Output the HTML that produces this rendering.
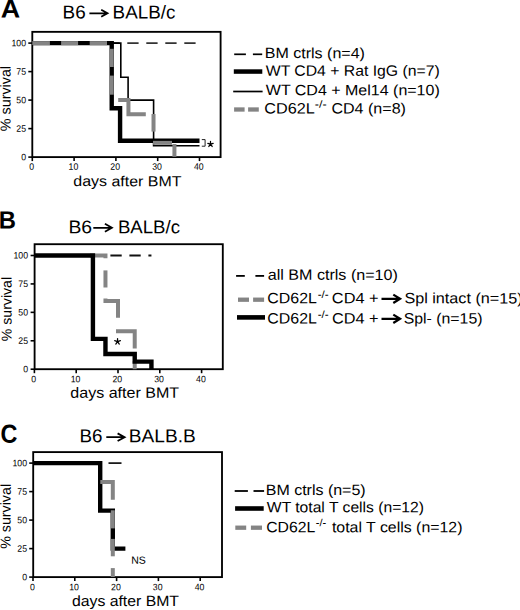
<!DOCTYPE html>
<html><head><meta charset="utf-8"><style>
html,body{margin:0;padding:0;background:#fff;width:520px;height:610px;overflow:hidden}
svg{display:block}
text{font-family:"Liberation Sans", sans-serif;fill:#000}
</style></head><body>
<svg width="520" height="610" viewBox="0 0 520 610" overflow="visible">
<rect width="520" height="610" fill="#fff"/>
<rect x="32.30" y="31.85" width="188.30" height="125.25" fill="none" stroke="#000" stroke-width="1.85"/>
<line x1="28.30" y1="157.10" x2="32.30" y2="157.10" stroke="#000" stroke-width="1.6" />
<text transform="translate(26.00 160.20) rotate(0.05)" font-size="9.3" text-anchor="end" textLength="4.86" lengthAdjust="spacingAndGlyphs">0</text>
<line x1="28.30" y1="128.60" x2="32.30" y2="128.60" stroke="#000" stroke-width="1.6" />
<text transform="translate(26.00 131.70) rotate(0.05)" font-size="9.3" text-anchor="end" textLength="9.72" lengthAdjust="spacingAndGlyphs">25</text>
<line x1="28.30" y1="100.10" x2="32.30" y2="100.10" stroke="#000" stroke-width="1.6" />
<text transform="translate(26.00 103.20) rotate(0.05)" font-size="9.3" text-anchor="end" textLength="9.72" lengthAdjust="spacingAndGlyphs">50</text>
<line x1="28.30" y1="71.60" x2="32.30" y2="71.60" stroke="#000" stroke-width="1.6" />
<text transform="translate(26.00 74.70) rotate(0.05)" font-size="9.3" text-anchor="end" textLength="9.72" lengthAdjust="spacingAndGlyphs">75</text>
<line x1="28.30" y1="43.10" x2="32.30" y2="43.10" stroke="#000" stroke-width="1.6" />
<text transform="translate(26.00 46.20) rotate(0.05)" font-size="9.3" text-anchor="end" textLength="14.58" lengthAdjust="spacingAndGlyphs">100</text>
<line x1="32.30" y1="157.10" x2="32.30" y2="161.10" stroke="#000" stroke-width="1.6" />
<text transform="translate(31.60 169.70) rotate(0.05)" font-size="9.3" text-anchor="middle" textLength="4.86" lengthAdjust="spacingAndGlyphs">0</text>
<line x1="74.10" y1="157.10" x2="74.10" y2="161.10" stroke="#000" stroke-width="1.6" />
<text transform="translate(73.40 169.70) rotate(0.05)" font-size="9.3" text-anchor="middle" textLength="9.72" lengthAdjust="spacingAndGlyphs">10</text>
<line x1="115.90" y1="157.10" x2="115.90" y2="161.10" stroke="#000" stroke-width="1.6" />
<text transform="translate(115.20 169.70) rotate(0.05)" font-size="9.3" text-anchor="middle" textLength="9.72" lengthAdjust="spacingAndGlyphs">20</text>
<line x1="157.70" y1="157.10" x2="157.70" y2="161.10" stroke="#000" stroke-width="1.6" />
<text transform="translate(157.00 169.70) rotate(0.05)" font-size="9.3" text-anchor="middle" textLength="9.72" lengthAdjust="spacingAndGlyphs">30</text>
<line x1="199.50" y1="157.10" x2="199.50" y2="161.10" stroke="#000" stroke-width="1.6" />
<text transform="translate(198.80 169.70) rotate(0.05)" font-size="9.3" text-anchor="middle" textLength="9.72" lengthAdjust="spacingAndGlyphs">40</text>
<line x1="32.30" y1="43.10" x2="199.50" y2="43.10" stroke="#333" stroke-width="1.6" stroke-dasharray="11.3 7.7"/>
<polyline points="32.30,43.10 111.72,43.10 111.72,108.24 120.08,108.24 120.08,140.81 199.50,140.81" fill="none" stroke="#000" stroke-width="4.4" />
<polyline points="32.30,43.10 120.80,43.10 120.80,77.30 128.10,77.30 128.10,100.10 153.60,100.10 153.60,145.70 199.50,145.70" fill="none" stroke="#000" stroke-width="1.6" />
<line x1="32.30" y1="43.10" x2="49.90" y2="43.10" stroke="#848484" stroke-width="4.0" />
<line x1="61.10" y1="43.10" x2="78.10" y2="43.10" stroke="#848484" stroke-width="4.0" />
<line x1="89.70" y1="43.10" x2="107.00" y2="43.10" stroke="#848484" stroke-width="4.0" />
<line x1="111.72" y1="48.80" x2="111.72" y2="67.00" stroke="#848484" stroke-width="4.0" />
<line x1="111.72" y1="75.60" x2="111.72" y2="94.70" stroke="#848484" stroke-width="4.0" />
<polyline points="118.20,100.10 128.44,100.10 128.44,114.35 145.80,114.35" fill="none" stroke="#848484" stroke-width="4.0" />
<line x1="153.52" y1="114.00" x2="153.52" y2="131.60" stroke="#848484" stroke-width="4.0" />
<line x1="153.02" y1="142.85" x2="172.00" y2="142.85" stroke="#848484" stroke-width="4.0" />
<line x1="174.42" y1="144.00" x2="174.42" y2="156.80" stroke="#848484" stroke-width="4.0" />
<path d="M201.8 139.6H205.1V146.2H201.8" fill="none" stroke="#222" stroke-width="1.0"/>
<path d="M210.50 144.20L210.50 141.40M210.50 144.20L213.16 143.33M210.50 144.20L212.15 146.47M210.50 144.20L208.85 146.47M210.50 144.20L207.84 143.33" stroke="#000" stroke-width="1.25" stroke-linecap="round" fill="none"/><circle cx="210.50" cy="144.20" r="0.85" fill="#000"/>
<path d="M89.40 13.30H107.00M101.20 9.80L107.50 13.30L101.20 16.80" fill="none" stroke="#000" stroke-width="1.8" stroke-linejoin="miter"/>
<line x1="234.20" y1="54.30" x2="245.90" y2="54.30" stroke="#000" stroke-width="1.7" />
<line x1="252.90" y1="54.30" x2="262.20" y2="54.30" stroke="#000" stroke-width="1.7" />
<line x1="233.80" y1="71.55" x2="262.30" y2="71.55" stroke="#000" stroke-width="4.5" />
<line x1="233.20" y1="91.50" x2="262.60" y2="91.50" stroke="#000" stroke-width="1.7" />
<line x1="234.10" y1="109.50" x2="244.60" y2="109.50" stroke="#848484" stroke-width="4.3" />
<line x1="248.10" y1="109.50" x2="258.80" y2="109.50" stroke="#848484" stroke-width="4.3" />
<rect x="34.60" y="244.20" width="188.20" height="125.00" fill="none" stroke="#000" stroke-width="1.85"/>
<line x1="30.60" y1="369.20" x2="34.60" y2="369.20" stroke="#000" stroke-width="1.6" />
<text transform="translate(28.00 372.30) rotate(0.05)" font-size="9.3" text-anchor="end" textLength="4.86" lengthAdjust="spacingAndGlyphs">0</text>
<line x1="30.60" y1="340.77" x2="34.60" y2="340.77" stroke="#000" stroke-width="1.6" />
<text transform="translate(28.00 343.88) rotate(0.05)" font-size="9.3" text-anchor="end" textLength="9.72" lengthAdjust="spacingAndGlyphs">25</text>
<line x1="30.60" y1="312.35" x2="34.60" y2="312.35" stroke="#000" stroke-width="1.6" />
<text transform="translate(28.00 315.45) rotate(0.05)" font-size="9.3" text-anchor="end" textLength="9.72" lengthAdjust="spacingAndGlyphs">50</text>
<line x1="30.60" y1="283.92" x2="34.60" y2="283.92" stroke="#000" stroke-width="1.6" />
<text transform="translate(28.00 287.02) rotate(0.05)" font-size="9.3" text-anchor="end" textLength="9.72" lengthAdjust="spacingAndGlyphs">75</text>
<line x1="30.60" y1="255.50" x2="34.60" y2="255.50" stroke="#000" stroke-width="1.6" />
<text transform="translate(28.00 258.60) rotate(0.05)" font-size="9.3" text-anchor="end" textLength="14.58" lengthAdjust="spacingAndGlyphs">100</text>
<line x1="34.40" y1="369.20" x2="34.40" y2="373.20" stroke="#000" stroke-width="1.6" />
<text transform="translate(33.70 382.30) rotate(0.05)" font-size="9.3" text-anchor="middle" textLength="4.86" lengthAdjust="spacingAndGlyphs">0</text>
<line x1="76.20" y1="369.20" x2="76.20" y2="373.20" stroke="#000" stroke-width="1.6" />
<text transform="translate(75.50 382.30) rotate(0.05)" font-size="9.3" text-anchor="middle" textLength="9.72" lengthAdjust="spacingAndGlyphs">10</text>
<line x1="118.00" y1="369.20" x2="118.00" y2="373.20" stroke="#000" stroke-width="1.6" />
<text transform="translate(117.30 382.30) rotate(0.05)" font-size="9.3" text-anchor="middle" textLength="9.72" lengthAdjust="spacingAndGlyphs">20</text>
<line x1="159.80" y1="369.20" x2="159.80" y2="373.20" stroke="#000" stroke-width="1.6" />
<text transform="translate(159.10 382.30) rotate(0.05)" font-size="9.3" text-anchor="middle" textLength="9.72" lengthAdjust="spacingAndGlyphs">30</text>
<line x1="201.60" y1="369.20" x2="201.60" y2="373.20" stroke="#000" stroke-width="1.6" />
<text transform="translate(200.90 382.30) rotate(0.05)" font-size="9.3" text-anchor="middle" textLength="9.72" lengthAdjust="spacingAndGlyphs">40</text>
<line x1="34.40" y1="255.50" x2="151.44" y2="255.50" stroke="#111" stroke-width="1.9" stroke-dasharray="11.3 7.7"/>
<polyline points="90.00,255.50 105.46,255.50 105.46,258.30" fill="none" stroke="#848484" stroke-width="4.0" />
<line x1="105.46" y1="270.40" x2="105.46" y2="287.50" stroke="#848484" stroke-width="4.0" />
<polyline points="105.46,298.60 105.46,300.98 118.00,300.98 118.00,317.80" fill="none" stroke="#848484" stroke-width="4.0" />
<polyline points="118.00,329.30 118.00,331.30 134.72,331.30 134.72,348.60" fill="none" stroke="#848484" stroke-width="4.0" />
<line x1="134.72" y1="361.00" x2="134.72" y2="369.20" stroke="#848484" stroke-width="4.0" />
<polyline points="34.40,255.50 92.92,255.50 92.92,338.88 105.46,338.88 105.46,354.04 134.72,354.04 134.72,361.62 151.44,361.62 151.44,369.20" fill="none" stroke="#000" stroke-width="4.4" />
<path d="M117.55 341.60L117.55 338.60M117.55 341.60L120.40 340.67M117.55 341.60L119.31 344.03M117.55 341.60L115.79 344.03M117.55 341.60L114.70 340.67" stroke="#000" stroke-width="1.25" stroke-linecap="round" fill="none"/><circle cx="117.55" cy="341.60" r="0.85" fill="#000"/>
<path d="M93.30 227.80H111.40M104.90 223.80L111.90 227.80L104.90 231.80" fill="none" stroke="#000" stroke-width="1.8" stroke-linejoin="miter"/>
<line x1="236.10" y1="275.90" x2="244.80" y2="275.90" stroke="#000" stroke-width="1.8" />
<line x1="255.40" y1="275.90" x2="264.10" y2="275.90" stroke="#000" stroke-width="1.8" />
<line x1="238.00" y1="299.70" x2="249.00" y2="299.70" stroke="#848484" stroke-width="4.3" />
<line x1="253.10" y1="299.70" x2="264.10" y2="299.70" stroke="#848484" stroke-width="4.3" />
<line x1="237.00" y1="317.40" x2="265.00" y2="317.40" stroke="#000" stroke-width="4.6" />
<path d="M381.50 298.80H399.60M393.30 294.60L400.10 298.80L393.30 303.00" fill="none" stroke="#000" stroke-width="2.2" stroke-linejoin="miter"/>
<path d="M381.50 318.80H399.60M393.30 314.60L400.10 318.80L393.30 323.00" fill="none" stroke="#000" stroke-width="2.2" stroke-linejoin="miter"/>
<rect x="33.20" y="452.10" width="188.80" height="125.00" fill="none" stroke="#000" stroke-width="1.85"/>
<line x1="29.20" y1="577.10" x2="33.20" y2="577.10" stroke="#000" stroke-width="1.6" />
<text transform="translate(27.00 580.20) rotate(0.05)" font-size="9.3" text-anchor="end" textLength="4.86" lengthAdjust="spacingAndGlyphs">0</text>
<line x1="29.20" y1="548.60" x2="33.20" y2="548.60" stroke="#000" stroke-width="1.6" />
<text transform="translate(27.00 551.70) rotate(0.05)" font-size="9.3" text-anchor="end" textLength="9.72" lengthAdjust="spacingAndGlyphs">25</text>
<line x1="29.20" y1="520.10" x2="33.20" y2="520.10" stroke="#000" stroke-width="1.6" />
<text transform="translate(27.00 523.20) rotate(0.05)" font-size="9.3" text-anchor="end" textLength="9.72" lengthAdjust="spacingAndGlyphs">50</text>
<line x1="29.20" y1="491.60" x2="33.20" y2="491.60" stroke="#000" stroke-width="1.6" />
<text transform="translate(27.00 494.70) rotate(0.05)" font-size="9.3" text-anchor="end" textLength="9.72" lengthAdjust="spacingAndGlyphs">75</text>
<line x1="29.20" y1="463.10" x2="33.20" y2="463.10" stroke="#000" stroke-width="1.6" />
<text transform="translate(27.00 466.20) rotate(0.05)" font-size="9.3" text-anchor="end" textLength="14.58" lengthAdjust="spacingAndGlyphs">100</text>
<line x1="33.00" y1="577.10" x2="33.00" y2="581.10" stroke="#000" stroke-width="1.6" />
<text transform="translate(32.30 590.30) rotate(0.05)" font-size="9.3" text-anchor="middle" textLength="4.86" lengthAdjust="spacingAndGlyphs">0</text>
<line x1="74.80" y1="577.10" x2="74.80" y2="581.10" stroke="#000" stroke-width="1.6" />
<text transform="translate(74.10 590.30) rotate(0.05)" font-size="9.3" text-anchor="middle" textLength="9.72" lengthAdjust="spacingAndGlyphs">10</text>
<line x1="116.60" y1="577.10" x2="116.60" y2="581.10" stroke="#000" stroke-width="1.6" />
<text transform="translate(115.90 590.30) rotate(0.05)" font-size="9.3" text-anchor="middle" textLength="9.72" lengthAdjust="spacingAndGlyphs">20</text>
<line x1="158.40" y1="577.10" x2="158.40" y2="581.10" stroke="#000" stroke-width="1.6" />
<text transform="translate(157.70 590.30) rotate(0.05)" font-size="9.3" text-anchor="middle" textLength="9.72" lengthAdjust="spacingAndGlyphs">30</text>
<line x1="200.20" y1="577.10" x2="200.20" y2="581.10" stroke="#000" stroke-width="1.6" />
<text transform="translate(199.50 590.30) rotate(0.05)" font-size="9.3" text-anchor="middle" textLength="9.72" lengthAdjust="spacingAndGlyphs">40</text>
<line x1="108.50" y1="463.10" x2="121.50" y2="463.10" stroke="#000" stroke-width="1.6" />
<polyline points="33.00,463.10 100.20,463.10 100.20,510.60 112.80,510.60 112.80,548.60 125.40,548.60" fill="none" stroke="#000" stroke-width="4.4" />
<polyline points="100.30,482.10 112.80,482.10 112.80,499.70" fill="none" stroke="#848484" stroke-width="4.0" />
<line x1="112.80" y1="510.30" x2="112.80" y2="528.40" stroke="#848484" stroke-width="4.0" />
<line x1="112.80" y1="538.90" x2="112.80" y2="556.30" stroke="#848484" stroke-width="4.0" />
<line x1="112.80" y1="568.10" x2="112.80" y2="577.00" stroke="#848484" stroke-width="4.0" />
<path d="M106.30 437.20H124.10M117.60 433.40L124.60 437.20L117.60 441.00" fill="none" stroke="#000" stroke-width="1.8" stroke-linejoin="miter"/>
<line x1="234.70" y1="491.00" x2="247.90" y2="491.00" stroke="#000" stroke-width="1.8" />
<line x1="253.50" y1="491.00" x2="264.10" y2="491.00" stroke="#000" stroke-width="1.8" />
<line x1="235.10" y1="508.50" x2="263.70" y2="508.50" stroke="#000" stroke-width="4.6" />
<line x1="235.30" y1="527.70" x2="246.20" y2="527.70" stroke="#848484" stroke-width="4.3" />
<line x1="250.90" y1="527.70" x2="262.00" y2="527.70" stroke="#848484" stroke-width="4.3" />
<text id="lblA" transform="translate(0.81 17.60) rotate(0.05)" font-size="25.4" font-weight="bold" textLength="19.41" lengthAdjust="spacingAndGlyphs">A</text>
<text id="lblB" transform="translate(-1.13 228.50) rotate(0.05)" font-size="24.8" font-weight="bold" textLength="17.19" lengthAdjust="spacingAndGlyphs">B</text>
<text id="lblC" transform="translate(0.41 442.70) rotate(0.05)" font-size="26.0" font-weight="bold" textLength="16.88" lengthAdjust="spacingAndGlyphs">C</text>
<text id="tA1" transform="translate(62.62 18.50) rotate(0.05)" font-size="18.7" font-weight="normal" textLength="23.06" lengthAdjust="spacingAndGlyphs">B6</text>
<text id="tA2" transform="translate(112.60 18.50) rotate(0.05)" font-size="18.7" font-weight="normal" textLength="62.69" lengthAdjust="spacingAndGlyphs">BALB/c</text>
<text id="tB1" transform="translate(68.39 233.30) rotate(0.05)" font-size="18.4" font-weight="normal" textLength="23.69" lengthAdjust="spacingAndGlyphs">B6</text>
<text id="tB2" transform="translate(117.92 233.30) rotate(0.05)" font-size="18.4" font-weight="normal" textLength="62.12" lengthAdjust="spacingAndGlyphs">BALB/c</text>
<text id="tC1" transform="translate(79.59 442.30) rotate(0.05)" font-size="18.6" font-weight="normal" textLength="22.99" lengthAdjust="spacingAndGlyphs">B6</text>
<text id="tC2" transform="translate(128.83 442.30) rotate(0.05)" font-size="18.6" font-weight="normal" textLength="66.90" lengthAdjust="spacingAndGlyphs">BALB.B</text>
<text id="yA" transform="translate(10.59 98.57) rotate(-89.95)" font-size="14.4" font-weight="normal" textLength="65.25" lengthAdjust="spacingAndGlyphs" text-anchor="middle">% survival</text>
<text id="yB" transform="translate(11.59 309.07) rotate(-89.95)" font-size="14.2" font-weight="normal" textLength="64.21" lengthAdjust="spacingAndGlyphs" text-anchor="middle">% survival</text>
<text id="yC" transform="translate(10.61 516.42) rotate(-89.95)" font-size="14.3" font-weight="normal" textLength="64.93" lengthAdjust="spacingAndGlyphs" text-anchor="middle">% survival</text>
<text id="xA" transform="translate(73.29 186.10) rotate(0.05)" font-size="14.6" font-weight="normal" textLength="108.17" lengthAdjust="spacingAndGlyphs">days after BMT</text>
<text id="xB" transform="translate(70.33 397.70) rotate(0.05)" font-size="15.0" font-weight="normal" textLength="108.79" lengthAdjust="spacingAndGlyphs">days after BMT</text>
<text id="xC" transform="translate(71.91 606.00) rotate(0.05)" font-size="15.0" font-weight="normal" textLength="107.12" lengthAdjust="spacingAndGlyphs">days after BMT</text>
<text id="LA1" transform="translate(264.79 58.10) rotate(0.05)" font-size="15.0" font-weight="normal" textLength="100.14" lengthAdjust="spacingAndGlyphs">BM ctrls (n=4)</text>
<text id="LA2" transform="translate(265.77 75.70) rotate(0.05)" font-size="15.0" font-weight="normal" textLength="173.94" lengthAdjust="spacingAndGlyphs">WT CD4 + Rat IgG (n=7)</text>
<text id="LA3" transform="translate(265.80 95.10) rotate(0.05)" font-size="15.0" font-weight="normal" textLength="173.94" lengthAdjust="spacingAndGlyphs">WT CD4 + Mel14 (n=10)</text>
<text id="LA4a" transform="translate(264.28 113.40) rotate(0.05)" font-size="15.0" font-weight="normal" textLength="50.49" lengthAdjust="spacingAndGlyphs">CD62L</text>
<text id="LA4s" transform="translate(314.76 107.80) rotate(0.05)" font-size="10.5" font-weight="normal" textLength="11.87" lengthAdjust="spacingAndGlyphs">-/-</text>
<text id="LA4b" transform="translate(331.44 113.40) rotate(0.05)" font-size="15.0" font-weight="normal" textLength="74.48" lengthAdjust="spacingAndGlyphs">CD4 (n=8)</text>
<text id="LB1" transform="translate(267.71 279.80) rotate(0.05)" font-size="15.0" font-weight="normal" textLength="130.16" lengthAdjust="spacingAndGlyphs">all BM ctrls (n=10)</text>
<text id="LB2a" transform="translate(267.37 303.30) rotate(0.05)" font-size="15.0" font-weight="normal" textLength="49.51" lengthAdjust="spacingAndGlyphs">CD62L</text>
<text id="LB2s" transform="translate(317.64 298.10) rotate(0.05)" font-size="10.5" font-weight="normal" textLength="10.92" lengthAdjust="spacingAndGlyphs">-/-</text>
<text id="LB2b" transform="translate(331.83 303.30) rotate(0.05)" font-size="15.0" font-weight="normal" textLength="46.76" lengthAdjust="spacingAndGlyphs">CD4 +</text>
<text id="LB2c" transform="translate(404.40 303.30) rotate(0.05)" font-size="15.0" font-weight="normal" textLength="118.18" lengthAdjust="spacingAndGlyphs">Spl intact (n=15)</text>
<text id="LB3a" transform="translate(267.37 323.50) rotate(0.05)" font-size="15.0" font-weight="normal" textLength="49.57" lengthAdjust="spacingAndGlyphs">CD62L</text>
<text id="LB3s" transform="translate(317.64 317.90) rotate(0.05)" font-size="10.5" font-weight="normal" textLength="10.92" lengthAdjust="spacingAndGlyphs">-/-</text>
<text id="LB3b" transform="translate(331.89 323.50) rotate(0.05)" font-size="15.0" font-weight="normal" textLength="46.58" lengthAdjust="spacingAndGlyphs">CD4 +</text>
<text id="LB3c" transform="translate(403.73 323.50) rotate(0.05)" font-size="15.0" font-weight="normal" textLength="78.75" lengthAdjust="spacingAndGlyphs">Spl- (n=15)</text>
<text id="LC1" transform="translate(265.79 495.00) rotate(0.05)" font-size="15.0" font-weight="normal" textLength="99.86" lengthAdjust="spacingAndGlyphs">BM ctrls (n=5)</text>
<text id="LC2" transform="translate(266.85 512.20) rotate(0.05)" font-size="15.0" font-weight="normal" textLength="157.07" lengthAdjust="spacingAndGlyphs">WT total T cells (n=12)</text>
<text id="LC3a" transform="translate(266.20 532.20) rotate(0.05)" font-size="15.0" font-weight="normal" textLength="49.02" lengthAdjust="spacingAndGlyphs">CD62L</text>
<text id="LC3s" transform="translate(315.75 526.30) rotate(0.05)" font-size="10.5" font-weight="normal" textLength="10.40" lengthAdjust="spacingAndGlyphs">-/-</text>
<text id="LC3b" transform="translate(331.89 532.20) rotate(0.05)" font-size="15.0" font-weight="normal" textLength="130.61" lengthAdjust="spacingAndGlyphs">total T cells (n=12)</text>
<text id="NS" transform="translate(131.13 563.80) rotate(0.05)" font-size="10.4" font-weight="normal" textLength="14.62" lengthAdjust="spacingAndGlyphs">NS</text>
</svg></body></html>
